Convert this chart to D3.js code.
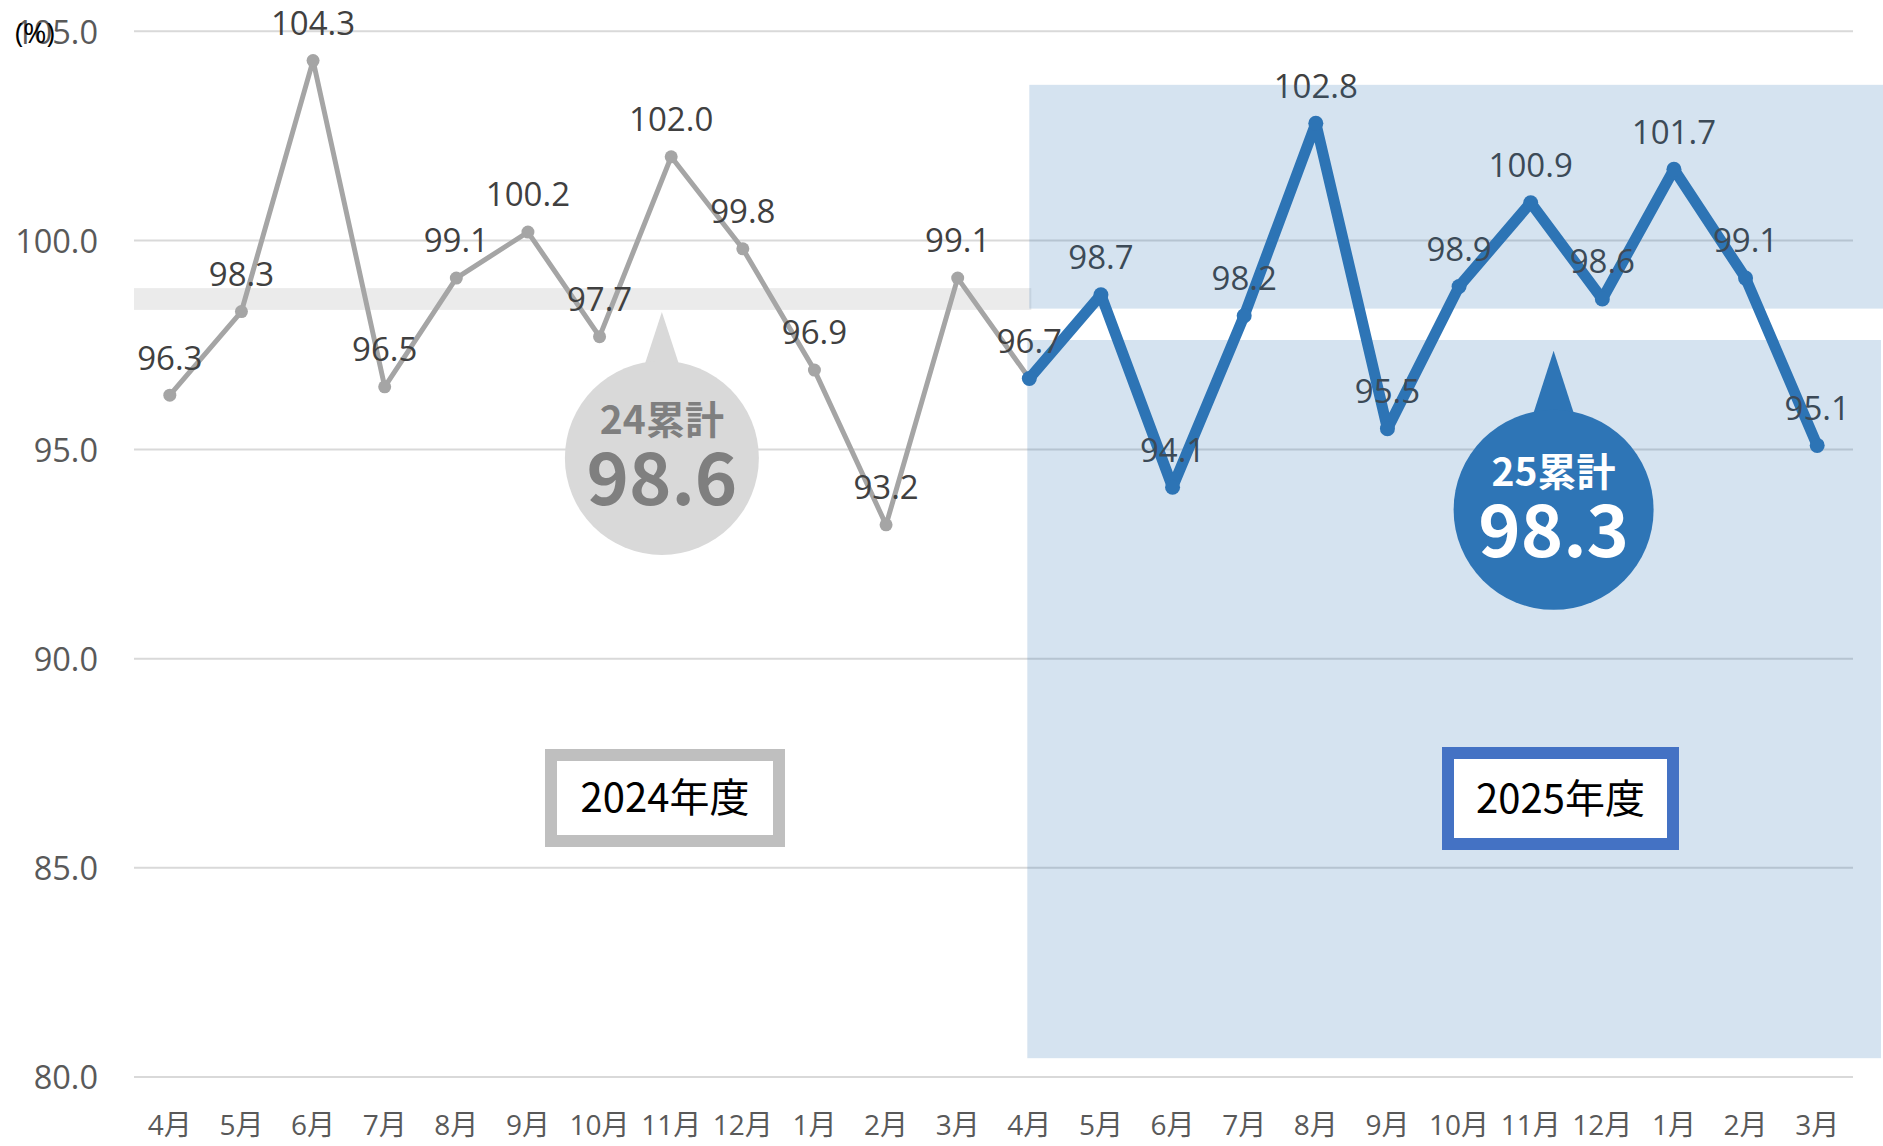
<!DOCTYPE html>
<html>
<head>
<meta charset="utf-8">
<script src="https://cdn.jsdelivr.net/npm/d3@7"></script>
<style>
  body { margin: 0; background: #fff; }
  svg { display: block; }
</style>
</head>
<body>
<div id="chart"></div>
<script>
// data
const months = ['4月', '5月', '6月', '7月', '8月', '9月', '10月', '11月', '12月', '1月', '2月', '3月',
    '4月', '5月', '6月', '7月', '8月', '9月', '10月', '11月', '12月', '1月', '2月', '3月']
const fy2024 = [96.3, 98.3, 104.3, 96.5, 99.1, 100.2, 97.7, 102.0, 99.8, 96.9, 93.2, 99.1]
const fy2025 = [96.7, 98.7, 94.1, 98.2, 102.8, 95.5, 98.9, 100.9, 98.6, 101.7, 99.1, 95.1]
const yTicks = [80, 85, 90, 95, 100, 105]
const cumLabels = ['24累計', '25累計']
const cumValues = [98.6, 98.3]
const yearLabels = ['2024年度', '2025年度']

const svgw = 1883
const svgh = 1146
const left = 134
const right = 1853
const font = '"Open Sans", "Noto Sans CJK JP", sans-serif'
const cjk = '"Noto Sans CJK JP", "Open Sans", sans-serif'

const svg = d3.select('#chart')
    .append('svg')
    .attr('width', svgw)
    .attr('height', svgh)

const x = d3.scaleBand().domain(d3.range(months.length)).range([left, right])
const cx = i => x(i) + x.bandwidth() / 2
const xi = d3.scaleLinear().domain([0, months.length - 1]).range([cx(0), cx(months.length - 1)])
const y = d3.scaleLinear().domain([80, 105]).range([1077, 31.3])

// gridlines
svg.append('g')
    .selectAll('line')
    .data(yTicks)
    .join('line')
    .attr('x1', left)
    .attr('x2', right)
    .attr('y1', d => y(d))
    .attr('y2', d => y(d))
    .attr('stroke', '#d9d9d9')
    .attr('stroke-width', 2)

// axes
const yAxis = svg.append('g')
    .attr('transform', `translate(${left - 34},0)`)
    .call(d3.axisLeft(y).tickValues(yTicks).tickFormat(d3.format('.1f')).tickSize(0).tickPadding(2))
yAxis.select('.domain').remove()
yAxis.attr('font-family', font).attr('font-size', 32.5)
yAxis.selectAll('text').attr('fill', '#595959').attr('dy', '0.36em')

const xAxis = svg.append('g')
    .attr('transform', `translate(0,1125)`)
    .call(d3.axisBottom(x).tickFormat(i => months[i]).tickSize(0))
xAxis.select('.domain').remove()
xAxis.attr('font-family', font).attr('font-size', 28)
xAxis.selectAll('text').attr('fill', '#595959').attr('y', 0).attr('dy', '0.36em')

svg.append('text')
    .attr('x', 15)
    .attr('y', 33)
    .attr('dy', '0.36em')
    .attr('font-family', font)
    .attr('font-size', 28)
    .attr('fill', '#000')
    .text('(%)')

// 24 cumulative band
svg.append('rect')
    .attr('x', left)
    .attr('y', y(cumValues[0] + 0.26))
    .attr('width', cx(12) + 2 - left)
    .attr('height', y(cumValues[0] - 0.26) - y(cumValues[0] + 0.26))
    .attr('fill', '#ebebeb')

const pts24 = fy2024.map((v, i) => ({ i, v }))
const pts25 = fy2025.map((v, i) => ({ i: i + 12, v }))
const line = d3.line().x(d => cx(d.i)).y(d => y(d.v))

svg.append('path')
    .datum(pts24.concat([pts25[0]]))
    .attr('d', line)
    .attr('fill', 'none')
    .attr('stroke', '#a5a5a5')
    .attr('stroke-width', 5)
    .attr('stroke-linejoin', 'round')

svg.append('g')
    .selectAll('circle')
    .data(pts24)
    .join('circle')
    .attr('cx', d => cx(d.i))
    .attr('cy', d => y(d.v))
    .attr('r', 6.5)
    .attr('fill', '#a5a5a5')

svg.append('path')
    .datum(pts25)
    .attr('d', line)
    .attr('fill', 'none')
    .attr('stroke', '#2e75b6')
    .attr('stroke-width', 11)
    .attr('stroke-linejoin', 'round')
    .attr('stroke-linecap', 'round')

svg.append('g')
    .selectAll('circle')
    .data(pts25)
    .join('circle')
    .attr('cx', d => cx(d.i))
    .attr('cy', d => y(d.v))
    .attr('r', 7.5)
    .attr('fill', '#2e75b6')

// data labels
svg.append('g')
    .selectAll('text')
    .data(pts24.concat(pts25))
    .join('text')
    .attr('x', d => cx(d.i))
    .attr('y', d => y(d.v) - 37.5)
    .attr('dy', '0.36em')
    .attr('text-anchor', 'middle')
    .attr('font-family', font)
    .attr('font-size', 33)
    .attr('fill', '#404040')
    .text(d => d.v.toFixed(1))

// 2025 shaded area (translucent, above labels)
const shade = svg.append('g').attr('fill', '#2e75b6').attr('fill-opacity', 0.2)
shade.append('rect')
    .attr('x', cx(12))
    .attr('y', y(103.72))
    .attr('width', svgw - cx(12))
    .attr('height', y(98.37) - y(103.72))
shade.append('rect')
    .attr('x', cx(12) - 2)
    .attr('y', y(97.62))
    .attr('width', svgw - 2 - cx(12) + 2)
    .attr('height', y(80.45) - y(97.62))

// callout bubbles
const bubbles = [
    { label: cumLabels[0], value: cumValues[0], ci: 6.87, cv: 94.8, tv: 98.29, r: 97, hw: 18, fill: '#d9d9d9', color: '#7f7f7f' },
    { label: cumLabels[1], value: cumValues[1], ci: 19.32, cv: 93.56, tv: 97.36, r: 100, hw: 21, fill: '#2e75b6', color: '#fff' }
]
bubbles.forEach(b => {
    const bx = xi(b.ci)
    const by = y(b.cv)
    const g = svg.append('g')
    g.append('path')
        .attr('d', `M${bx - b.hw},${by - b.r + 6}L${bx},${y(b.tv)}L${bx + b.hw},${by - b.r + 6}Z`)
        .attr('fill', b.fill)
    g.append('circle')
        .attr('cx', bx)
        .attr('cy', by)
        .attr('r', b.r)
        .attr('fill', b.fill)
    g.append('text')
        .attr('x', bx)
        .attr('y', by - 38)
        .attr('dy', '0.36em')
        .attr('text-anchor', 'middle')
        .attr('font-family', cjk)
        .attr('font-weight', 'bold')
        .attr('font-size', 39)
        .attr('fill', b.color)
        .text(b.label)
    g.append('text')
        .attr('x', bx)
        .attr('y', by + 21)
        .attr('dy', '0.36em')
        .attr('text-anchor', 'middle')
        .attr('font-family', cjk)
        .attr('font-weight', 'bold')
        .attr('font-size', 72)
        .attr('fill', b.color)
        .text(b.value.toFixed(1))
})

// year boxes
const boxes = [
    { label: yearLabels[0], x0: 551, y0: 755, w: 228, h: 86, stroke: '#bfbfbf' },
    { label: yearLabels[1], x0: 1448, y0: 753, w: 225, h: 91, stroke: '#4472c4' }
]
boxes.forEach(b => {
    svg.append('rect')
        .attr('x', b.x0)
        .attr('y', b.y0)
        .attr('width', b.w)
        .attr('height', b.h)
        .attr('fill', '#fff')
        .attr('stroke', b.stroke)
        .attr('stroke-width', 12)
    svg.append('text')
        .attr('x', b.x0 + b.w / 2)
        .attr('y', b.y0 + b.h / 2)
        .attr('dy', '0.36em')
        .attr('text-anchor', 'middle')
        .attr('font-family', cjk)
        .attr('font-size', 40)
        .attr('fill', '#000')
        .text(b.label)
})
</script>
</body>
</html>
